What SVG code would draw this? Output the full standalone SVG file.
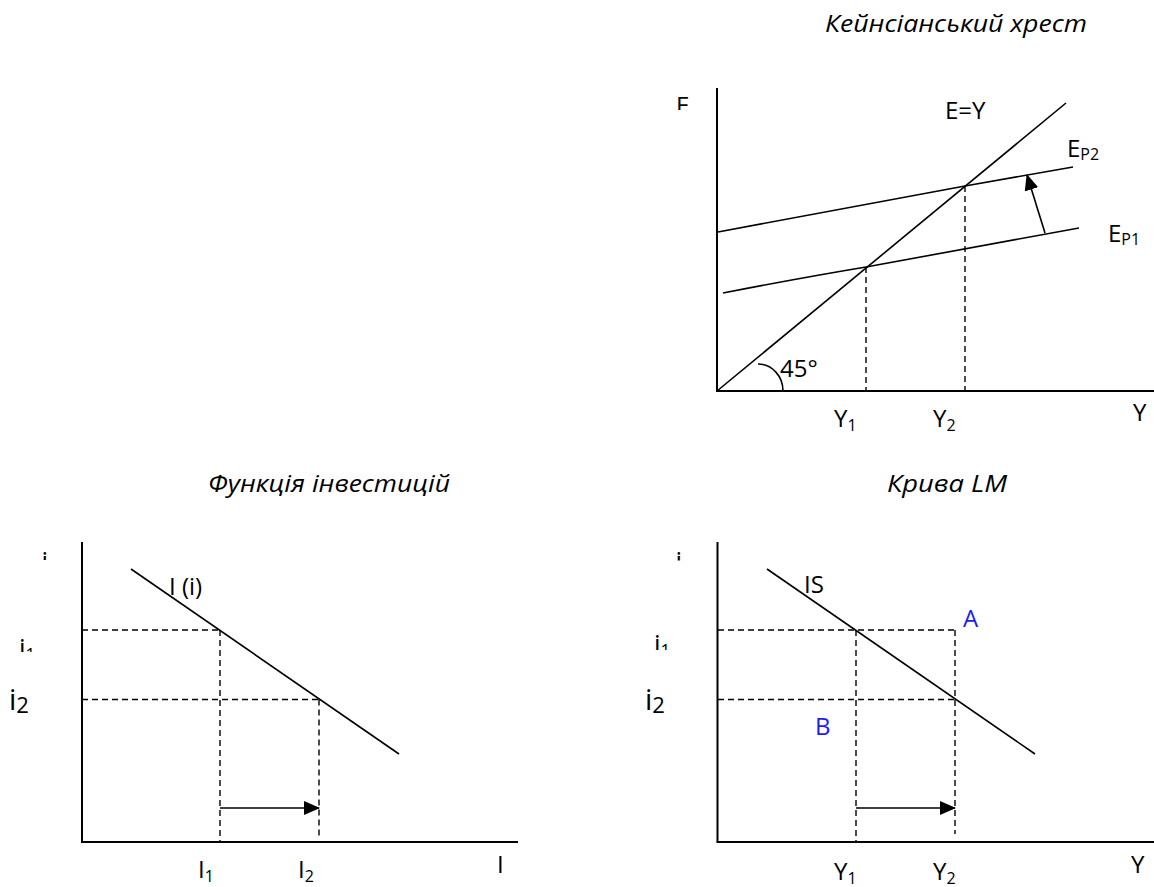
<svg xmlns="http://www.w3.org/2000/svg" width="1154" height="887" viewBox="0 0 1154 887">
<style>
text{font-family:"Open Sans","Noto Sans","DejaVu Sans",sans-serif;font-size:24px;fill:#000}
.title{font-style:italic;font-size:24px}
.sub{font-size:16px}
.blue{fill:#1a1aff}
.axis{stroke:#000;stroke-width:2;fill:none}
.curve{stroke:#000;stroke-width:1.6;fill:none}
.dash{stroke:#000;stroke-width:1.4;fill:none;stroke-dasharray:6 4}
.arr{stroke:#000;stroke-width:1.6;fill:none;marker-end:url(#ah)}
</style>
<defs>
<marker id="ah" viewBox="0 0 16 14" refX="15" refY="7" markerWidth="16" markerHeight="14" markerUnits="userSpaceOnUse" orient="auto"><path d="M0 0 L16 7 L0 14 Z" fill="#000"/></marker>
<clipPath id="cE"><rect x="660" y="85" width="40" height="25"/></clipPath>
<clipPath id="cLtop"><rect x="30" y="540" width="40" height="20"/></clipPath>
<clipPath id="cL1"><rect x="10" y="625" width="50" height="27"/></clipPath>
<clipPath id="cRtop"><rect x="665" y="540" width="40" height="20.5"/></clipPath>
<clipPath id="cR1"><rect x="645" y="620" width="50" height="30"/></clipPath>
</defs>

<rect width="1154" height="887" fill="#fff"/>

<g id="keynes-cross">
  <text class="title" x="825" y="32" textLength="262" lengthAdjust="spacingAndGlyphs">Кейнсіанський хрест</text>
  <g id="kc-axes">
    <line class="axis" x1="717" y1="88" x2="717" y2="391"/>
    <line class="axis" x1="716" y1="391" x2="1154" y2="391"/>
  </g>
  <g id="kc-lines">
    <line class="curve" x1="717" y1="391" x2="1066" y2="103"/>
    <path class="curve" d="M718 232 Q860 205 965 186 L1073 167"/>
    <path class="curve" d="M723 293 Q800 278 866 267 L1079 228"/>
    <line class="dash" x1="866" y1="267" x2="866" y2="391"/>
    <line class="dash" x1="965" y1="186" x2="965" y2="391"/>
    <line class="arr" x1="1045" y1="233" x2="1027" y2="175"/>
    <path class="curve" d="M758 364 A25 27 0 0 1 783 391"/>
  </g>
  <g id="kc-labels">
    <text x="676" y="114" clip-path="url(#cE)">E</text>
    <text x="945" y="119">E=Y</text>
    <text x="1067" y="157">E<tspan class="sub" dy="3">P2</tspan></text>
    <text x="1108" y="241.5">E<tspan class="sub" dy="3">P1</tspan></text>
    <text x="780" y="377">45°</text>
    <text x="834" y="427">Y<tspan class="sub" dy="4">1</tspan></text>
    <text x="933" y="427">Y<tspan class="sub" dy="4">2</tspan></text>
    <text x="1133" y="421">Y</text>
  </g>
</g>

<g id="investment-function">
  <text class="title" x="208" y="492" textLength="242" lengthAdjust="spacingAndGlyphs">Функція інвестицій</text>
  <g id="if-axes">
    <line class="axis" x1="82" y1="542" x2="82" y2="842"/>
    <line class="axis" x1="81" y1="842" x2="518" y2="842"/>
  </g>
  <g id="if-lines">
    <line class="curve" x1="131" y1="569" x2="399" y2="754"/>
    <line class="dash" x1="82" y1="630" x2="220" y2="630"/>
    <line class="dash" x1="82" y1="699.5" x2="319" y2="699.5"/>
    <line class="dash" x1="220" y1="630" x2="220" y2="842"/>
    <line class="dash" x1="319" y1="699.5" x2="319" y2="836"/>
    <line class="arr" x1="220" y1="808" x2="319" y2="808"/>
  </g>
  <g id="if-labels">
    <text x="41.5" y="570" style="font-size:26px" clip-path="url(#cLtop)">i</text>
    <text x="19" y="657" style="font-size:26px" clip-path="url(#cL1)">i<tspan style="font-size:17px" dy="3">1</tspan></text>
    <text x="9" y="709.5" style="font-size:29px">i<tspan style="font-size:22px" dy="3.5">2</tspan></text>
    <text x="169" y="595">I (i)</text>
    <text x="198" y="878">I<tspan class="sub" dy="4">1</tspan></text>
    <text x="298" y="878">I<tspan class="sub" dy="4">2</tspan></text>
    <text x="497" y="873">I</text>
  </g>
</g>

<g id="lm-curve">
  <text class="title" x="887" y="492" textLength="120" lengthAdjust="spacingAndGlyphs">Крива LM</text>
  <g id="lm-axes">
    <line class="axis" x1="717.5" y1="542" x2="717.5" y2="842"/>
    <line class="axis" x1="716.5" y1="842" x2="1154" y2="842"/>
  </g>
  <g id="lm-lines">
    <line class="curve" x1="767" y1="569" x2="1035" y2="754"/>
    <line class="dash" x1="718" y1="630" x2="955" y2="630"/>
    <line class="dash" x1="718" y1="699.5" x2="955" y2="699.5"/>
    <line class="dash" x1="856" y1="630" x2="856" y2="842"/>
    <line class="dash" x1="955" y1="630" x2="955" y2="834"/>
    <line class="arr" x1="856" y1="808" x2="955" y2="808"/>
  </g>
  <g id="lm-labels">
    <text x="675.5" y="570" style="font-size:26px" clip-path="url(#cRtop)">i</text>
    <text x="654" y="652.5" style="font-size:26px" clip-path="url(#cR1)">i<tspan style="font-size:17px" dy="3">1</tspan></text>
    <text x="645" y="709.5" style="font-size:29px">i<tspan style="font-size:22px" dy="3.5">2</tspan></text>
    <text x="804" y="593">IS</text>
    <text class="blue" x="963" y="627">A</text>
    <text class="blue" x="815" y="735">B</text>
    <text x="834" y="880">Y<tspan class="sub" dy="4">1</tspan></text>
    <text x="933" y="880">Y<tspan class="sub" dy="4">2</tspan></text>
    <text x="1131" y="873">Y</text>
  </g>
</g>
</svg>
